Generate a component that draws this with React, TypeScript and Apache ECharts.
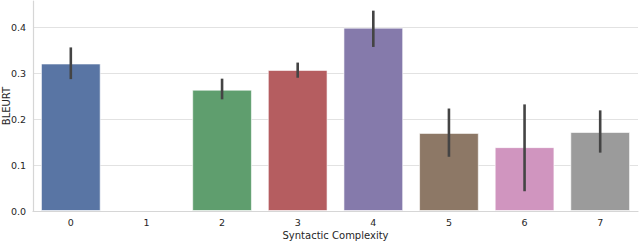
import React, { useEffect, useRef } from "react";
import * as echarts from "echarts";

const categories = ["0", "1", "2", "3", "4", "5", "6", "7"];
const means: (number | null)[] = [0.321, null, 0.264, 0.307, 0.399, 0.17, 0.139, 0.172];
const ciLow: (number | null)[] = [0.287, null, 0.243, 0.29, 0.357, 0.118, 0.043, 0.127];
const ciHigh: (number | null)[] = [0.356, null, 0.288, 0.323, 0.436, 0.223, 0.232, 0.219];
const barColors = ["#5975a4", "#cc8963", "#5f9e6e", "#b55d60", "#857aab", "#8d7866", "#d095bf", "#9b9b9b"];

export default function App() {
  const ref = useRef<HTMLDivElement>(null);
  useEffect(() => {
    if (!ref.current) return;
    const chart = echarts.init(ref.current, undefined, { renderer: "svg" });
    const font = "DejaVu Sans";
    const errData = categories
      .map((c, i) => (ciLow[i] == null ? null : [i, ciLow[i], ciHigh[i]]))
      .filter((d) => d != null);
    const gc = "#e2e2e2";
    chart.setOption({
      animation: false,
      grid: { left: 33, right: 2, top: 1, bottom: 30, containLabel: false, outerBoundsMode: "none" },
      xAxis: {
        type: "category",
        data: categories,
        name: "Syntactic Complexity",
        nameLocation: "middle",
        nameGap: 19,
        nameMoveOverlap: false,
        nameTextStyle: { fontFamily: font, fontSize: 10, color: "#262626" },
        axisLine: { show: true, lineStyle: { color: "#d6d6d6", width: 1.2 } },
        axisTick: { show: false },
        axisLabel: { fontFamily: font, fontSize: 9.5, color: "#262626", margin: 6, lineHeight: 10 },
        splitLine: { show: false },
      },
      yAxis: {
        type: "value",
        min: 0,
        max: 0.457,
        interval: 0.1,
        name: "BLEURT",
        nameLocation: "middle",
        nameGap: 22,
        nameMoveOverlap: false,
        nameTextStyle: { fontFamily: font, fontSize: 10, color: "#262626" },
        axisLine: { show: true, lineStyle: { color: "#d6d6d6", width: 1.2 } },
        axisTick: { show: false },
        axisLabel: {
          fontFamily: font,
          fontSize: 9.5,
          color: "#262626",
          margin: 7,
          showMaxLabel: false,
          formatter: (v: number) => v.toFixed(1),
        },
        splitLine: {
          show: true,
          lineStyle: { color: [gc, gc, gc, gc, gc, "rgba(0,0,0,0)"], width: 1.2 },
        },
      },
      series: [
        {
          type: "bar",
          z: 2,
          barWidth: "79%",
          data: means.map((v, i) => ({
            value: v,
            itemStyle: { color: barColors[i], borderColor: "rgba(255,255,255,0.6)", borderWidth: 1 },
          })),
        },
        {
          type: "custom",
          z: 5,
          data: errData,
          renderItem: (params: any, api: any) => {
            const x = api.value(0);
            const p1 = api.coord([x, api.value(1)]);
            const p2 = api.coord([x, api.value(2)]);
            return {
              type: "line",
              shape: { x1: p1[0], y1: p1[1], x2: p2[0], y2: p2[1] },
              style: { stroke: "#444444", lineWidth: 2.6 },
            };
          },
        },
      ],
    });
    return () => chart.dispose();
  }, []);
  return <div ref={ref} style={{ width: 640, height: 241, position: "absolute", left: 0, top: 0 }} />;
}
